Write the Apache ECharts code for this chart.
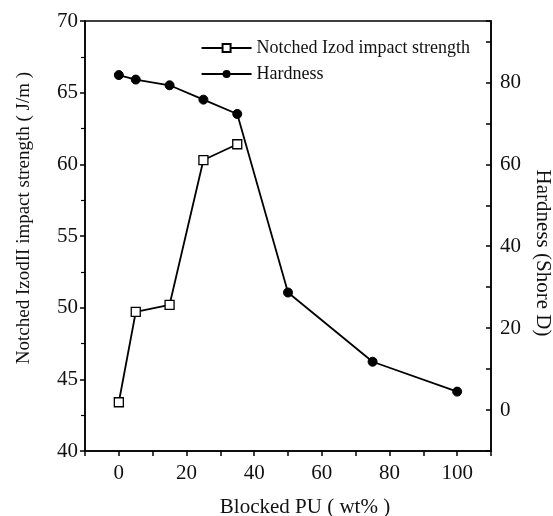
<!DOCTYPE html>
<html>
<head>
<meta charset="utf-8">
<script src="https://cdn.jsdelivr.net/npm/echarts@6/dist/echarts.min.js"></script>
<style>html,body{margin:0;padding:0;background:#fff}#c{width:553px;height:516px}</style>
</head>
<body>
<div id="c"></div>
<script>
const blockedPU = [0, 5, 15, 25, 35, 50, 75, 100];
const impactX = [0, 5, 15, 25, 35];
const impactStrength = [43.4, 49.7, 50.2, 60.3, 61.4];
const hardness = [81.8, 80.7, 79.3, 75.8, 72.3, 28.7, 11.8, 4.5];
const xTickLabels = [0, 20, 40, 60, 80, 100];
const rightTickLabels = [0, 20, 40, 60, 80];

const serif = '"Liberation Serif", "DejaVu Serif", serif';
const chart = echarts.init(document.getElementById('c'));
chart.setOption({
  animation: false,
  backgroundColor: '#fff',
  grid: { left: 85, right: 62, top: 21, bottom: 65, containLabel: false, outerBoundsMode: 'none',
    show: true, borderColor: '#000', borderWidth: 1.5, backgroundColor: 'transparent' },
  legend: {
    orient: 'vertical', right: 78, top: 34, itemWidth: 50, itemHeight: 10, itemGap: 8,
    textStyle: { fontFamily: serif, fontSize: 18, color: '#111' },
    data: ['Notched Izod impact strength', 'Hardness']
  },
  xAxis: {
    type: 'value', min: -10, max: 110, interval: 10,
    name: 'Blocked PU ( wt% )', nameLocation: 'middle', nameGap: 46,
    nameTextStyle: { fontFamily: serif, fontSize: 21, color: '#111', padding: [0, 0, 0, 34] },
    axisLine: { onZero: false, lineStyle: { color: '#000', width: 1.5 } },
    axisTick: { length: 5, lineStyle: { color: '#000', width: 1.5 } },
    axisLabel: { fontFamily: serif, fontSize: 21, color: '#111', margin: 12,
      formatter: v => xTickLabels.includes(v) ? String(v) : '' },
    splitLine: { show: false }
  },
  yAxis: [
    {
      type: 'value', min: 40, max: 70, interval: 5, position: 'left',
      name: 'Notched IzodII impact strength ( J/m )', nameLocation: 'middle', nameGap: 51, nameRotate: 90,
      nameTextStyle: { fontFamily: serif, fontSize: 19, color: '#111', padding: [0, 0, 0, 36] },
      axisLine: { show: true, onZero: false, lineStyle: { color: '#000', width: 1.5 } },
      axisTick: { show: true, length: 5, lineStyle: { color: '#000', width: 1.5 } },
      minorTick: { show: true, splitNumber: 2, length: 4, lineStyle: { color: '#000', width: 1.2 } },
      axisLabel: { fontFamily: serif, fontSize: 21, color: '#111', margin: 7 },
      splitLine: { show: false }
    },
    {
      type: 'value', min: -10, max: 95, interval: 10, position: 'right',
      name: 'Hardness (Shore D)', nameLocation: 'middle', nameGap: 38, nameRotate: -90,
      nameTextStyle: { fontFamily: serif, fontSize: 21, color: '#111', padding: [0, 0, 0, 34] },
      axisLine: { show: true, onZero: false, lineStyle: { color: '#000', width: 1.5 } },
      axisTick: { show: true, inside: true, length: 5, lineStyle: { color: '#000', width: 1.5 } },
      axisLabel: { fontFamily: serif, fontSize: 21, color: '#111', margin: 9,
        formatter: v => rightTickLabels.includes(v) ? String(v) : '' },
      splitLine: { show: false }
    }
  ],
  series: [
    {
      name: 'Notched Izod impact strength', type: 'line', yAxisIndex: 0,
      data: impactX.map((x, i) => [x, impactStrength[i]]),
      symbol: 'rect', symbolSize: 9,
      itemStyle: { color: '#fff', borderColor: '#000', borderWidth: 1.3 },
      lineStyle: { color: '#000', width: 1.8 }
    },
    {
      name: 'Hardness', type: 'line', yAxisIndex: 1,
      data: blockedPU.map((x, i) => [x, hardness[i]]),
      symbol: 'circle', symbolSize: 9,
      itemStyle: { color: '#000', borderColor: '#000' },
      lineStyle: { color: '#000', width: 1.8 }
    }
  ]
});
</script>
</body>
</html>
